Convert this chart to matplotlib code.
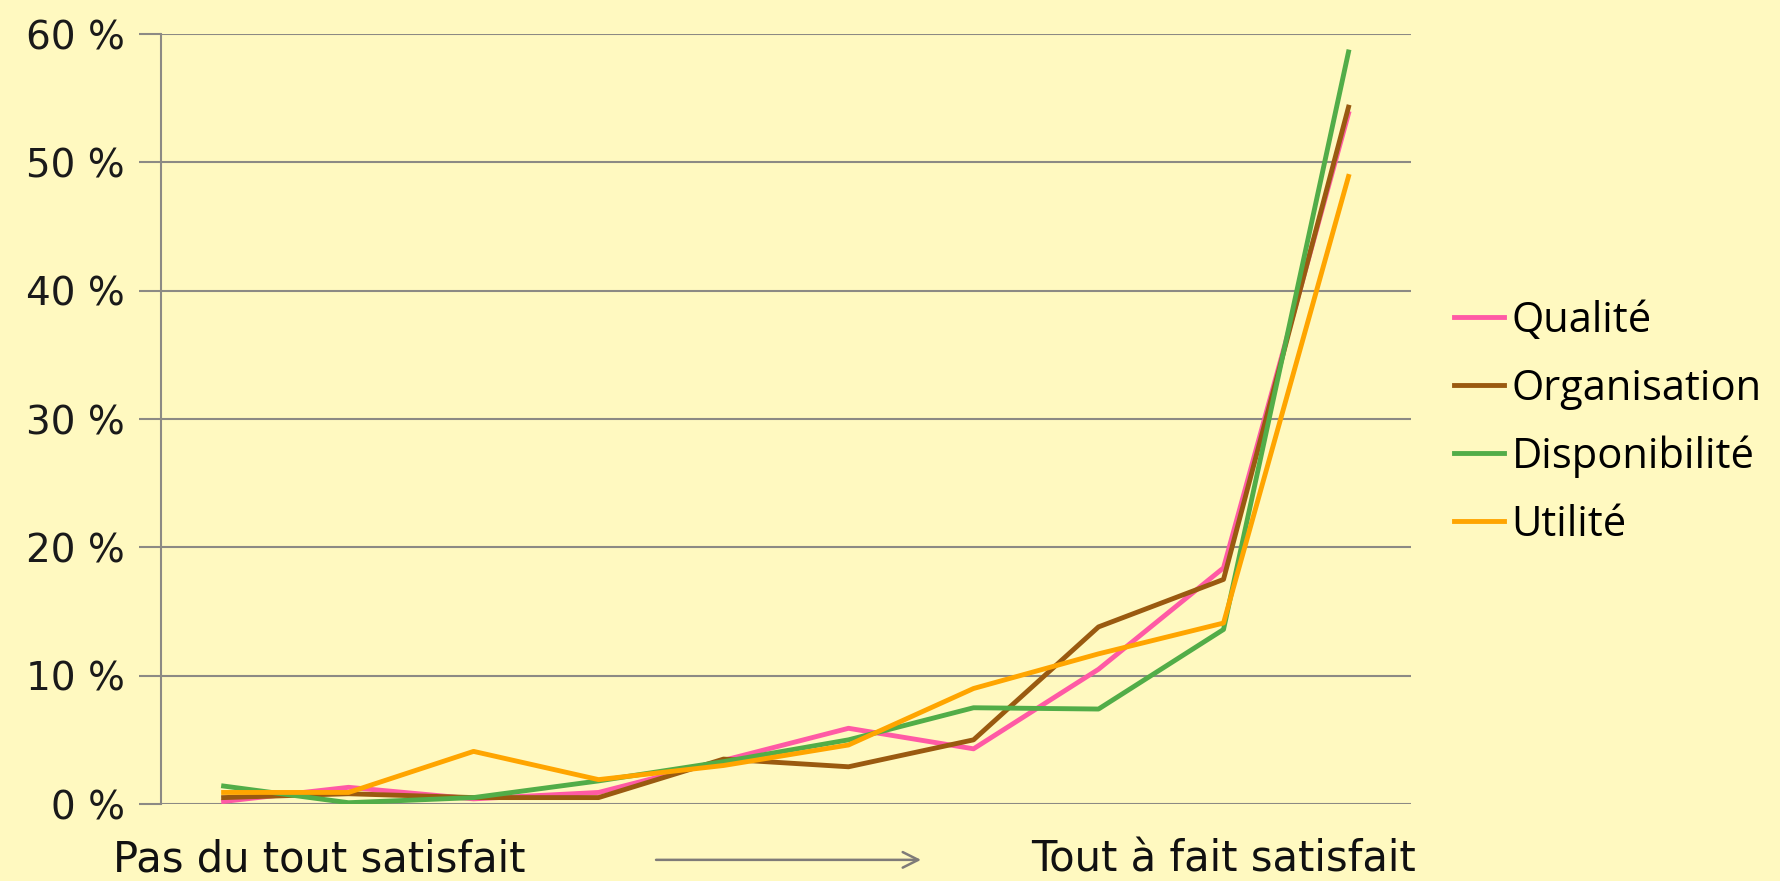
import matplotlib.pyplot as plt
from matplotlib.ticker import FuncFormatter
from matplotlib.patches import FancyArrowPatch

# données : pourcentage de réponses par niveau (1 = pas du tout, 10 = tout à fait)
niveaux = list(range(1, 11))
qualite = [0.2, 1.3, 0.4, 0.9, 3.4, 5.9, 4.3, 10.5, 18.4, 53.8]
organisation = [0.5, 0.8, 0.5, 0.5, 3.5, 2.9, 5.0, 13.8, 17.5, 54.3]
disponibilite = [1.4, 0.1, 0.5, 1.8, 3.3, 5.0, 7.5, 7.4, 13.6, 58.6]
utilite = [0.9, 0.9, 4.1, 1.9, 3.0, 4.6, 9.0, 11.7, 14.1, 48.9]

series = [
    ('Qualité', qualite, '#ff5aa5'),
    ('Organisation', organisation, '#9a5a10'),
    ('Disponibilité', disponibilite, '#52ad48'),
    ('Utilité', utilite, '#ffa500'),
]

bg = '#fff9c0'
grid_col = '#8c8a84'

fig = plt.figure(figsize=(17.8, 8.81), dpi=100, facecolor=bg)
ax = fig.add_axes([0.0905, 0.0874, 0.7022, 0.874])
ax.set_facecolor(bg)

for nom, vals, col in series:
    ax.plot(niveaux, vals, color=col, lw=3.5, label=nom)

ax.set_xlim(0.5, 10.5)
ax.set_ylim(0, 60)
ax.set_yticks(range(0, 61, 10))
ax.yaxis.set_major_formatter(FuncFormatter(lambda v, p: f'{int(v)} %'))
ax.set_xticks([])
ax.grid(axis='y', color=grid_col, lw=1.5)
ax.set_axisbelow(True)
for s in ['top', 'right', 'bottom']:
    ax.spines[s].set_visible(False)
ax.spines['left'].set_color(grid_col)
ax.spines['left'].set_linewidth(1.5)
ax.tick_params(axis='y', length=16, width=1.5, color=grid_col, pad=10,
               labelsize=28, labelcolor='#1a1a1a')

# légende à droite
leg = ax.legend(loc='center left', bbox_to_anchor=(0.8075, 0.52),
                bbox_transform=fig.transFigure, frameon=False,
                prop={'family': 'Open Sans', 'size': 30},
                handlelength=1.2, handletextpad=0.18,
                labelspacing=0.62, borderaxespad=0)

# libellés de l'axe horizontal avec flèche
fig.text(0.0635, 0.024, 'Pas du tout satisfait', fontsize=30, ha='left', va='center', color='#111111')
fig.text(0.7955, 0.024, 'Tout à fait satisfait', fontsize=30, ha='right', va='center', color='#111111')
fig.patches.append(FancyArrowPatch(
    (0.367, 0.024), (0.519, 0.024), transform=fig.transFigure,
    arrowstyle='->', mutation_scale=28, color='#7f7b78', lw=1.8))

plt.savefig('out.png', dpi=100, facecolor=bg)
